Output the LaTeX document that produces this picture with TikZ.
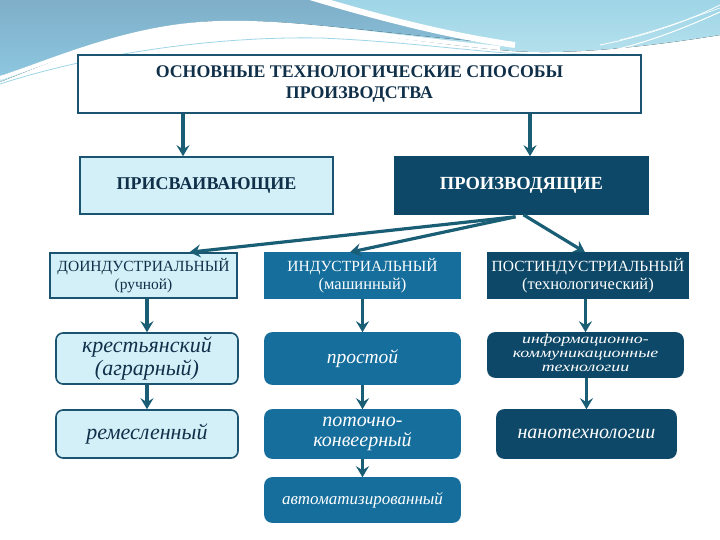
\documentclass[tikz,border=0pt]{standalone}
\usepackage{graphicx}
\usepackage{fontspec}
\setmainfont{Liberation Serif}
\usetikzlibrary{arrows.meta,calc}
\definecolor{bord}{HTML}{1B5470}
\definecolor{lightf}{HTML}{D3F0F8}
\definecolor{midf}{HTML}{166E9C}
\definecolor{darkf}{HTML}{0E4868}
\definecolor{arrc}{HTML}{1A5E76}
\definecolor{steel}{HTML}{7DB8D8}
\definecolor{cyanbg}{HTML}{A6DCEA}
\definecolor{txtd}{HTML}{10304A}
\tikzset{
  boxbase/.style={draw=bord, line width=1.6pt, align=center, inner sep=1pt},
  lightbox/.style={boxbase, fill=lightf, text=txtd},
  midbox/.style={boxbase, fill=midf, draw=midf, text=white},
  darkbox/.style={boxbase, fill=darkf, draw=darkf, text=white},
  rbox/.style={rounded corners=7pt},
  arr/.style={draw=arrc, line width=3.2pt, -{Stealth[length=11pt,width=13pt,inset=4pt]}},
  capsf/.style={font=\fontsize{15.5}{18}\selectfont},
  itf/.style={font=\fontsize{22}{23}\selectfont\itshape},
}
\begin{document}
\begin{tikzpicture}[x=1pt,y=-1pt]
\useasboundingbox (0,0) rectangle (720,540);
\fill[white] (0,0) rectangle (720,540);
% background swooshes
\fill[top color=cyanbg!80!steel, bottom color=cyanbg!70!white] (0,0) -- (720,0) -- (720,35)
  .. controls (640,48) and (560,56) .. (500,50)
  .. controls (380,38) and (280,18) .. (200,24)
  .. controls (120,32) and (50,62) .. (0,82) -- cycle;
\fill[top color=steel!90!black!90, bottom color=steel!60!cyanbg] (0,0) -- (312,0)
  .. controls (380,18) and (450,36) .. (510,44)
  .. controls (380,34) and (280,16) .. (200,22)
  .. controls (120,30) and (50,60) .. (0,76) -- cycle;
\draw[white, line width=6pt] (310,-3) .. controls (380,18) and (450,36) .. (515,45);
\draw[white, line width=4pt] (0,78) .. controls (50,62) and (120,30) .. (200,24)
  .. controls (280,18) and (380,36) .. (500,48);
\draw[white, line width=1pt] (0,86) .. controls (80,60) and (200,38) .. (320,40)
  .. controls (420,44) and (500,60) .. (560,58) .. controls (620,55) and (680,30) .. (720,12);
\draw[cyanbg!80!steel, line width=0.8pt] (0,84) .. controls (80,58) and (200,36) .. (320,38)
  .. controls (420,42) and (500,56) .. (560,55);
\draw[white, line width=0.8pt] (600,45) .. controls (650,35) and (690,20) .. (720,5);
\draw[white, line width=0.6pt] (620,40) .. controls (660,30) and (700,15) .. (720,8);

% nodes
\node[boxbase, fill=white, text=txtd, minimum width=563pt, minimum height=58pt,
  font=\fontsize{17.8}{21}\selectfont\bfseries] (top) at (359.5,84)
  {ОСНОВНЫЕ ТЕХНОЛОГИЧЕСКИЕ СПОСОБЫ\\ПРОИЗВОДСТВА};
\node[lightbox, minimum width=253pt, minimum height=57pt, font=\fontsize{18}{19}\selectfont\bfseries] (pris) at (206.5,185.5) {ПРИСВАИВАЮЩИЕ};
\node[darkbox, minimum width=253pt, minimum height=57pt, font=\fontsize{18.5}{19}\selectfont\bfseries] (prod) at (521.5,185.5) {ПРОИЗВОДЯЩИЕ};

\node[lightbox, capsf, minimum width=187pt, minimum height=45pt] (doind) at (143.5,275.5)
  {ДОИНДУСТРИАЛЬНЫЙ\\{\fontsize{15.5}{17}\selectfont (ручной)}};
\node[midbox, capsf, minimum width=195pt, minimum height=45pt] (ind) at (362.5,275.5)
  {ИНДУСТРИАЛЬНЫЙ\\{\fontsize{16.5}{17}\selectfont (машинный)}};
\node[darkbox, capsf, minimum width=200pt, minimum height=45pt] (post) at (588,275.5)
  {ПОСТИНДУСТРИАЛЬНЫЙ\\{\fontsize{16.5}{17}\selectfont (технологический)}};

\node[lightbox, rbox, itf, minimum width=182pt, minimum height=51pt] (kr) at (147,358.5)
  {крестьянский\\(аграрный)};
\node[midbox, rbox, font=\fontsize{19.5}{20}\selectfont\itshape, minimum width=195pt, minimum height=51pt] (prost) at (362.5,358.5)
  {простой};
\node[darkbox, rbox, font=\fontsize{13.5}{13.8}\selectfont\itshape, minimum width=195pt, minimum height=44pt] (info) at (585.5,355)
  {\scalebox{1.32}[1]{\begin{tabular}{@{}c@{}}информационно-\\коммуникационные\\технологии\end{tabular}}};

\node[lightbox, rbox, itf, minimum width=182pt, minimum height=48pt] (rem) at (147,434)
  {ремесленный};
\node[midbox, rbox, font=\fontsize{20}{19.5}\selectfont\itshape, minimum width=195pt, minimum height=48pt] (pot) at (362.5,434)
  {поточно-\\конвеерный};
\node[darkbox, rbox, font=\fontsize{20}{20}\selectfont\itshape, minimum width=179pt, minimum height=48pt] (nano) at (586.5,434)
  {нанотехнологии};
\node[midbox, rbox, font=\fontsize{17}{18}\selectfont\itshape, minimum width=195pt, minimum height=44pt] (avto) at (362.5,500)
  {автоматизированный};

% arrows
\draw[arr] ([xshift=-23.5pt]pris.north |- top.south) -- ([xshift=-23.5pt]pris.north);
\draw[arr] ([xshift=8.5pt]prod.north |- top.south) -- ([xshift=8.5pt]prod.north);
\coordinate (ps1) at ([xshift=-6pt,yshift=-2pt]prod.south);
\coordinate (ps2) at ([xshift=2pt]prod.south);
\draw[arr] (ps1) -- ([xshift=46pt]doind.north);
\draw[arr] (ps1) -- ([xshift=-12.5pt]ind.north);
\draw[arr] (ps2) -- ([xshift=-3pt]post.north);
\draw[arr] (kr.north |- doind.south) -- (kr.north);
\draw[arr] (ind.south) -- (prost.north);
\draw[arr] (post.south -| info.north) -- (info.north);
\draw[arr] (kr.south) -- (rem.north);
\draw[arr] (prost.south) -- (pot.north);
\draw[arr] (nano.north |- info.south) -- (nano.north);
\draw[arr] (pot.south) -- (avto.north);
\end{tikzpicture}
\end{document}
